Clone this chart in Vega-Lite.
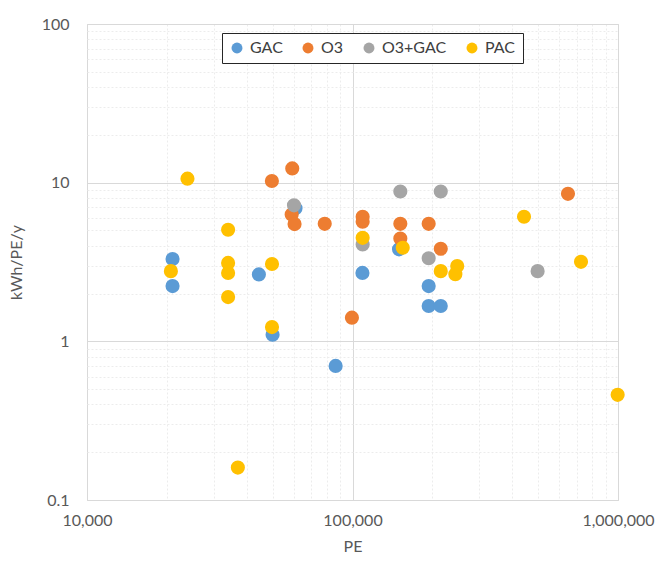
{
  "$schema": "https://vega.github.io/schema/vega-lite/v6.json",
  "width": 531,
  "height": 476,
  "autosize": {"type": "none"},
  "padding": {"left": 87, "top": 24, "right": 45, "bottom": 62},
  "background": "white",
  "config": {
    "font": "Lato",
    "view": {"stroke": "#d9d9d9", "strokeWidth": 1},
    "axis": {"labelFont": "Lato", "titleFont": "Lato", "labelColor": "#595959", "titleColor": "#595959", "labelFontSize": 16, "titleFontSize": 16, "titleFontWeight": "normal", "ticks": false, "domain": false}
  },
  "data": {
    "values": [
      {"PE": 21000, "v": 3.3, "type": "GAC"},
      {"PE": 21000, "v": 2.23, "type": "GAC"},
      {"PE": 44400, "v": 2.64, "type": "GAC"},
      {"PE": 50000, "v": 1.1, "type": "GAC"},
      {"PE": 61000, "v": 6.9, "type": "GAC"},
      {"PE": 86400, "v": 0.7, "type": "GAC"},
      {"PE": 109000, "v": 2.7, "type": "GAC"},
      {"PE": 149700, "v": 3.8, "type": "GAC"},
      {"PE": 193600, "v": 2.23, "type": "GAC"},
      {"PE": 193600, "v": 1.67, "type": "GAC"},
      {"PE": 215000, "v": 1.67, "type": "GAC"},
      {"PE": 49700, "v": 10.25, "type": "O3"},
      {"PE": 59300, "v": 12.3, "type": "O3"},
      {"PE": 59000, "v": 6.3, "type": "O3"},
      {"PE": 60500, "v": 5.48, "type": "O3"},
      {"PE": 78600, "v": 5.5, "type": "O3"},
      {"PE": 99500, "v": 1.41, "type": "O3"},
      {"PE": 109200, "v": 6.1, "type": "O3"},
      {"PE": 109200, "v": 5.67, "type": "O3"},
      {"PE": 151400, "v": 5.5, "type": "O3"},
      {"PE": 151400, "v": 4.45, "type": "O3"},
      {"PE": 193600, "v": 5.5, "type": "O3"},
      {"PE": 215000, "v": 3.83, "type": "O3"},
      {"PE": 648000, "v": 8.5, "type": "O3"},
      {"PE": 60200, "v": 7.2, "type": "O3+GAC"},
      {"PE": 109200, "v": 4.08, "type": "O3+GAC"},
      {"PE": 151400, "v": 8.8, "type": "O3+GAC"},
      {"PE": 193600, "v": 3.34, "type": "O3+GAC"},
      {"PE": 215000, "v": 8.8, "type": "O3+GAC"},
      {"PE": 498000, "v": 2.77, "type": "O3+GAC"},
      {"PE": 23900, "v": 10.6, "type": "PAC"},
      {"PE": 20700, "v": 2.77, "type": "PAC"},
      {"PE": 34000, "v": 5.05, "type": "PAC"},
      {"PE": 34000, "v": 3.12, "type": "PAC"},
      {"PE": 34000, "v": 2.7, "type": "PAC"},
      {"PE": 34000, "v": 1.9, "type": "PAC"},
      {"PE": 37000, "v": 0.16, "type": "PAC"},
      {"PE": 49750, "v": 3.07, "type": "PAC"},
      {"PE": 49750, "v": 1.23, "type": "PAC"},
      {"PE": 109200, "v": 4.49, "type": "PAC"},
      {"PE": 154600, "v": 3.89, "type": "PAC"},
      {"PE": 215000, "v": 2.77, "type": "PAC"},
      {"PE": 248000, "v": 2.98, "type": "PAC"},
      {"PE": 244000, "v": 2.65, "type": "PAC"},
      {"PE": 442600, "v": 6.1, "type": "PAC"},
      {"PE": 725500, "v": 3.17, "type": "PAC"},
      {"PE": 997000, "v": 0.46, "type": "PAC"}
    ]
  },
  "mark": {"type": "point", "filled": true, "opacity": 1, "size": 200, "shape": "circle"},
  "encoding": {
    "x": {
      "field": "PE", "type": "quantitative", "title": "PE",
      "scale": {"type": "log", "domain": [10000, 1000000], "nice": false},
      "axis": {
        "values": [10000, 20000, 30000, 40000, 50000, 60000, 70000, 80000, 90000, 100000, 200000, 300000, 400000, 500000, 600000, 700000, 800000, 900000, 1000000],
        "labelExpr": "indexof([10000,100000,1000000], datum.value) >= 0 ? format(datum.value, ',') : ''",
        "labelPadding": 12,
        "titlePadding": 10,
        "labelFlush": false,
        "gridColor": {"condition": {"test": "indexof([10000,100000,1000000], datum.value) >= 0", "value": "#d9d9d9"}, "value": "#ececec"},
        "gridDash": {"condition": {"test": "indexof([10000,100000,1000000], datum.value) >= 0", "value": []}, "value": [2, 2]}
      }
    },
    "y": {
      "field": "v", "type": "quantitative", "title": "kWh/PE/y",
      "scale": {"type": "log", "domain": [0.1, 100], "nice": false},
      "axis": {
        "values": [0.1, 0.2, 0.3, 0.4, 0.5, 0.6, 0.7, 0.8, 0.9, 1, 2, 3, 4, 5, 6, 7, 8, 9, 10, 20, 30, 40, 50, 60, 70, 80, 90, 100],
        "labelExpr": "indexof([0.1,1,10,100], datum.value) >= 0 ? format(datum.value, '~g') : ''",
        "labelPadding": 18,
        "titlePadding": 17,
        "labelFlush": false,
        "gridColor": {"condition": {"test": "indexof([0.1,1,10,100], datum.value) >= 0", "value": "#d9d9d9"}, "value": "#ececec"},
        "gridDash": {"condition": {"test": "indexof([0.1,1,10,100], datum.value) >= 0", "value": []}, "value": [2, 2]}
      }
    },
    "color": {
      "field": "type", "type": "nominal",
      "scale": {"domain": ["GAC", "O3", "O3+GAC", "PAC"], "range": ["#5B9BD5", "#ED7D31", "#A5A5A5", "#FFC000"]},
      "legend": {
        "title": null, "orient": "none", "direction": "horizontal",
        "legendX": 135, "legendY": 9,
        "labelFont": "Lato", "labelFontSize": 16, "labelColor": "#404040",
        "symbolType": "circle", "symbolSize": 120, "symbolStrokeWidth": 0,
        "columnPadding": 17, "labelOffset": 5,
        "fillColor": "white", "strokeColor": "#262626", "padding": 7
      }
    },
    "order": {"field": "type", "sort": "ascending"}
  }
}
